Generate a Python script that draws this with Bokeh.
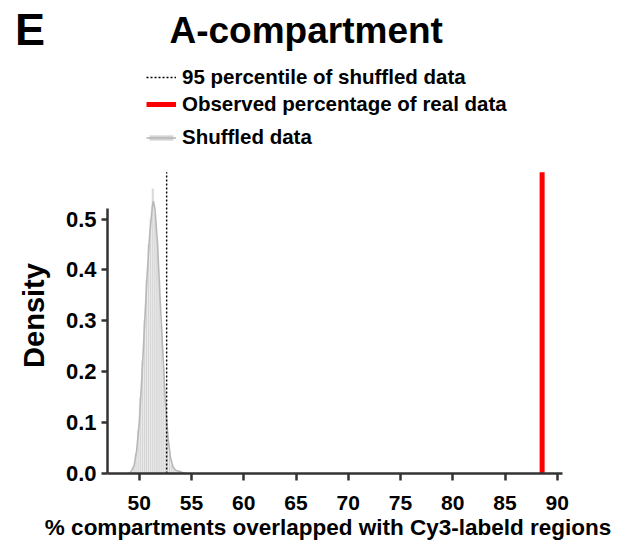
import math
from bokeh.plotting import figure
from bokeh.models import (Range1d, FixedTicker, Label, Legend, LegendItem,
                          ColumnDataSource, PrintfTickFormatter)
from bokeh.embed import file_html
from bokeh.resources import INLINE

# ---------------- data ----------------
bin_centers = [49.3, 49.5, 49.7, 49.9, 50.1, 50.3, 50.5, 50.7, 50.9, 51.1,
               51.3, 51.5, 51.7, 51.9, 52.1, 52.3, 52.5, 52.7, 52.9, 53.1,
               53.3, 53.5, 53.7, 53.9, 54.1, 54.3]
bin_density = [0.004, 0.015, 0.040, 0.085, 0.150, 0.220, 0.300, 0.380, 0.450, 0.500,
               0.560, 0.510, 0.460, 0.380, 0.290, 0.210, 0.140, 0.080, 0.040, 0.018,
               0.008, 0.004, 0.006, 0.003, 0.002, 0.001]
bin_width = 0.2

kde_x = [49.0, 49.25, 49.5, 49.75, 50.0, 50.25, 50.5, 50.75, 51.0, 51.25, 51.35,
         51.5, 51.75, 52.0, 52.25, 52.5, 52.75, 53.0, 53.25, 53.5, 53.75, 54.0,
         54.25, 54.5]
kde_y = [0.0, 0.005, 0.015, 0.045, 0.100, 0.190, 0.290, 0.390, 0.470, 0.525, 0.535,
         0.520, 0.450, 0.340, 0.240, 0.140, 0.070, 0.030, 0.012, 0.006, 0.005, 0.003,
         0.001, 0.0]

percentile_95 = 52.62
observed_pct = 88.55
marker_top = 0.592

x_ticks = [50, 55, 60, 65, 70, 75, 80, 85, 90]
y_ticks = [0.0, 0.1, 0.2, 0.3, 0.4, 0.5]

title_text = "A-compartment"
panel_letter = "E"
x_label = "% compartments overlapped with Cy3-labeld regions"
y_label = "Density"
legend_labels = ["95 percentile of shuffled data",
                 "Observed percentage of real data",
                 "Shuffled data"]

# ---------------- layout (canvas pixel coordinates) ----------------
W, H = 620, 546
B_LEFT, B_TOP = 104, 0
FRAME_RIGHT, FRAME_BOTTOM = 562, 473
B_RIGHT = W - FRAME_RIGHT
B_BOTTOM = H - FRAME_BOTTOM
X0, X1 = 46.96, 90.5
frame_w = FRAME_RIGHT - B_LEFT
frame_h = FRAME_BOTTOM - B_TOP
PX_PER_Y = 509.0
Y1 = frame_h / PX_PER_Y

FONT = "Liberation Sans"
AX_COLOR = "#333333"

def px2x(px):
    return X0 + (px - B_LEFT) * (X1 - X0) / frame_w

def py2y(py):
    return (FRAME_BOTTOM - py) / PX_PER_Y

p = figure(width=W, height=H, output_backend="svg", toolbar_location=None,
           x_range=Range1d(X0, X1), y_range=Range1d(0, Y1),
           min_border_left=B_LEFT, min_border_right=B_RIGHT,
           min_border_top=B_TOP, min_border_bottom=B_BOTTOM)
p.outline_line_color = None
p.grid.visible = False
p.background_fill_color = "white"
p.border_fill_color = "white"

# histogram
src = ColumnDataSource(dict(x=bin_centers, top=bin_density))
hist = p.vbar(x="x", top="top", width=bin_width, bottom=0, source=src,
              fill_color="#d4d4d4", line_color="#f2f2f2", line_width=0.6)
kde = p.line(kde_x, kde_y, line_color="#b8b8b8", line_width=1.6)

# vertical markers
pct = p.segment(x0=[percentile_95], y0=[0], x1=[percentile_95], y1=[marker_top],
                line_color="black", line_width=1.4, line_dash="2 2")
obs = p.segment(x0=[observed_pct], y0=[0], x1=[observed_pct], y1=[marker_top],
                line_color="#ff0000", line_width=5)

# axes
for ax in (p.xaxis[0], p.yaxis[0]):
    ax.axis_line_color = AX_COLOR
    ax.axis_line_width = 2.5
    ax.major_tick_line_color = AX_COLOR
    ax.major_tick_line_width = 2.5
    ax.major_tick_in = 0
    ax.minor_tick_line_color = None
    ax.major_label_text_font = FONT
    ax.major_label_text_font_style = "bold"
    ax.major_label_text_color = "black"

p.xaxis.ticker = FixedTicker(ticks=x_ticks)
p.xaxis.major_tick_out = 7
p.xaxis.major_label_standoff = 15
p.xaxis.major_label_text_font_size = "21px"
p.yaxis.ticker = FixedTicker(ticks=y_ticks)
p.yaxis.formatter = PrintfTickFormatter(format="%.1f")
p.yaxis.major_tick_out = 6
p.yaxis.major_label_standoff = 5
p.yaxis.major_label_text_font_size = "22px"
p.yaxis.bounds = (0, 0.521)

# texts
def make_label(text, px, py, size, align="center", angle=0.0):
    return Label(x=px2x(px), y=py2y(py), text=text, text_font=FONT,
                 text_font_style="bold", text_font_size=size,
                 text_align=align, text_baseline="middle", angle=angle,
                 text_color="black")

p.add_layout(make_label(title_text, 304, 30, "37px"))
p.add_layout(make_label(panel_letter, 11, 29, "45px", align="left"), "left")
p.add_layout(make_label(y_label, 30, 315, "29px", angle=math.pi / 2), "left")
p.add_layout(make_label(x_label, 326, 527, "22.5px"), "below")

# legends (one per entry so each sits where it does in the reference)
def add_legend(label, renderers, px_left, py_center, glyph_h):
    item_h = 22
    lg = Legend(items=[LegendItem(label=label, renderers=renderers)],
                location=(px_left - B_LEFT, FRAME_BOTTOM - py_center - item_h / 2),
                padding=0, margin=0, border_line_color=None,
                background_fill_alpha=0, glyph_width=30, glyph_height=glyph_h,
                label_height=item_h, label_standoff=6, spacing=0,
                label_text_font=FONT, label_text_font_style="bold",
                label_text_font_size="20.5px", label_text_color="black")
    p.add_layout(lg)

add_legend(legend_labels[0], [pct], 143, 78, 20)
add_legend(legend_labels[1], [obs], 143, 105, 20)
add_legend(legend_labels[2], [hist, kde], 143, 138, 7)

open("out.html", "w").write(file_html(p, INLINE))
